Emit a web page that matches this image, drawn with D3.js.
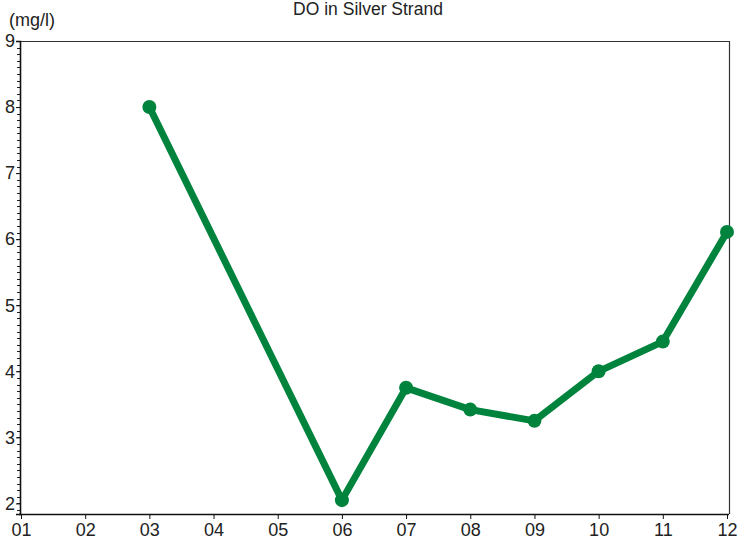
<!DOCTYPE html>
<html><head><meta charset="utf-8">
<script src="https://cdn.jsdelivr.net/npm/d3@7"></script>
<style>body{margin:0;background:#fff}svg{display:block;font-family:"Liberation Sans",Arial,sans-serif}</style>
</head><body><svg id="c" width="740" height="540"></svg>
<script>
const months = ["01","02","03","04","05","06","07","08","09","10","11","12"];
const obsMonths = ["03","06","07","08","09","10","11","12"];
const obsValues = [8.0, 2.05, 3.75, 3.42, 3.25, 4.0, 4.45, 6.11];
const yTicks = [2,3,4,5,6,7,8,9];
const title = "DO in Silver Strand";
const unit = "(mg/l)";

const svg = d3.select("#c");
const L = 20, R = 729, T = 41, B = 514;
const x = d3.scalePoint().domain(months).range([21, 727]);
const y = d3.scaleLinear().domain([1.84, 9]).range([B, T]);

// frame
svg.append("line").attr("x1",L).attr("x2",R).attr("y1",T+0.5).attr("y2",T+0.5).attr("stroke","#333").attr("stroke-width",1.2);
svg.append("line").attr("x1",R+0.5).attr("x2",R+0.5).attr("y1",T).attr("y2",B).attr("stroke","#333").attr("stroke-width",1.2);

// y minor ticks
const minor = d3.range(19, 91).map(v => v/10).filter(v => y(v) >= T-0.5 && y(v) <= B);
svg.append("g").selectAll("line").data(minor).join("line")
  .attr("x1", L-3).attr("x2", L).attr("y1", d=>Math.round(y(d))+0.5).attr("y2", d=>Math.round(y(d))+0.5)
  .attr("stroke","#222").attr("stroke-width",1);

// y axis
const ya = svg.append("g").attr("transform",`translate(${L},0)`)
  .call(d3.axisLeft(y).tickValues(yTicks).tickSize(4).tickPadding(1).tickFormat(d3.format("d")));
ya.select(".domain").attr("stroke","#111").attr("stroke-width",1.6);
ya.selectAll(".tick line").attr("stroke","#111");
ya.selectAll("text").attr("font-size",18).attr("fill","#222").attr("font-family","Liberation Sans, Arial, sans-serif");

// x axis
const xa = svg.append("g").attr("transform",`translate(0,${B})`)
  .call(d3.axisBottom(x).tickSize(5).tickPadding(4).tickSizeOuter(0));
xa.select(".domain").attr("d",`M${L-1},0.5H${R}`).attr("stroke","#111").attr("stroke-width",1.6);
xa.selectAll(".tick line").attr("stroke","#111");
xa.selectAll("text").attr("font-size",18).attr("fill","#222").attr("font-family","Liberation Sans, Arial, sans-serif");

// title & unit
svg.append("text").attr("x",368).attr("y",15).attr("text-anchor","middle").attr("font-size",17.5).attr("fill","#222").text(title);
svg.append("text").attr("x",9).attr("y",26).attr("font-size",18).attr("fill","#222").text(unit);

const data = obsMonths.map((m,i)=>({m, v: obsValues[i]}));
const color = "#00843d";
svg.append("path").datum(data)
  .attr("d", d3.line().x(d=>x(d.m)).y(d=>y(d.v)))
  .attr("fill","none").attr("stroke",color).attr("stroke-width",7).attr("stroke-linejoin","round");
svg.append("g").selectAll("circle").data(data).join("circle")
  .attr("cx",d=>x(d.m)).attr("cy",d=>y(d.v)).attr("r",7).attr("fill",color);
</script></body></html>
